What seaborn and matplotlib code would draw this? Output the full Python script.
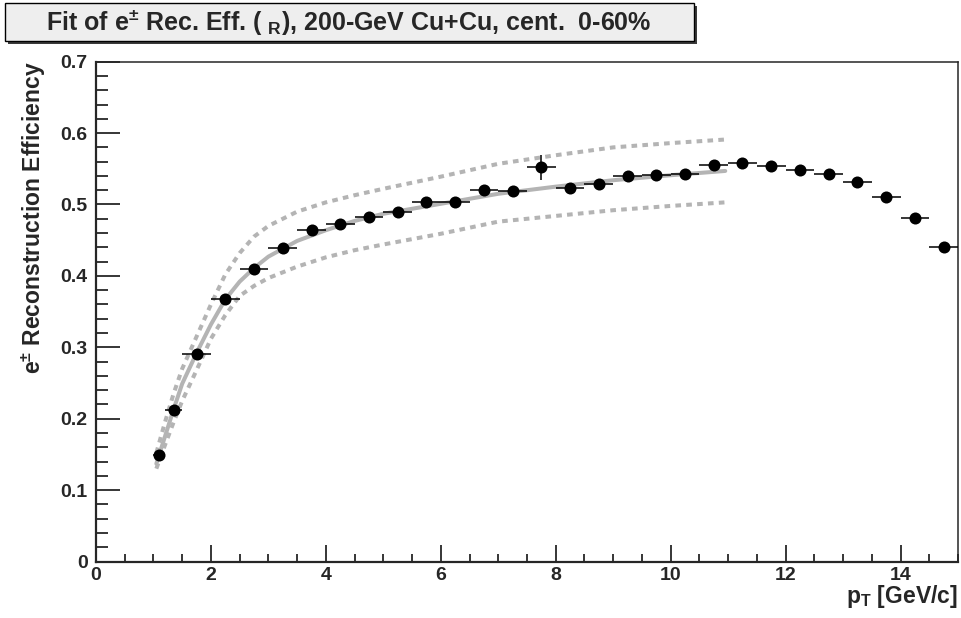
import matplotlib

matplotlib.use("Agg")
import matplotlib.pyplot as plt
import pandas as pd
import seaborn as sns
from matplotlib.patches import Rectangle
from matplotlib.ticker import MultipleLocator

# ------------------- data

pt = [1.1, 1.35, 1.75, 2.25, 2.75, 3.25, 3.75, 4.25, 4.75, 5.25, 5.75, 6.25,
      6.75, 7.25, 7.75, 8.25, 8.75, 9.25, 9.75, 10.25, 10.75, 11.25, 11.75,
      12.25, 12.75, 13.25, 13.75, 14.25, 14.75]
pt_err = [0.1, 0.15] + [0.25] * 27
eff = [0.149, 0.212, 0.291, 0.368, 0.410, 0.439, 0.464, 0.473, 0.483, 0.490,
       0.504, 0.504, 0.520, 0.519, 0.552, 0.523, 0.529, 0.540, 0.541, 0.543,
       0.555, 0.558, 0.554, 0.549, 0.543, 0.531, 0.511, 0.481, 0.440]
eff_err = [0.004] * 14 + [0.018] + [0.004] * 14

fit_pt = [1.05, 1.2, 1.35, 1.5, 1.75, 2.0, 2.25, 2.5, 2.75, 3.0, 3.5, 4.0,
          4.5, 5.0, 6.0, 7.0, 8.0, 9.0, 10.0, 10.95]
fit_mid = [0.137, 0.175, 0.213, 0.249, 0.292, 0.332, 0.367, 0.392, 0.411,
           0.427, 0.449, 0.464, 0.477, 0.487, 0.501, 0.515, 0.525, 0.534,
           0.541, 0.547]
fit_hi = [0.152, 0.195, 0.235, 0.270, 0.315, 0.360, 0.402, 0.432, 0.455,
          0.470, 0.490, 0.503, 0.513, 0.522, 0.539, 0.557, 0.569, 0.580,
          0.586, 0.591]
fit_lo = [0.130, 0.163, 0.195, 0.225, 0.268, 0.312, 0.345, 0.372, 0.386,
          0.397, 0.413, 0.426, 0.436, 0.444, 0.459, 0.476, 0.484, 0.492,
          0.498, 0.503]

title = "Fit of e$^{\\pm}$ Rec. Eff. ( $_{R}$), 200-GeV Cu+Cu, cent.  0-60%"
x_label = "p$_{T}$ [GeV/c]"
y_label = "e$^{\\pm}$ Reconstruction Efficiency"

# ------------------- style

sns.set_style("ticks")
plt.rcParams["font.family"] = ["Liberation Sans", "DejaVu Sans"]
plt.rcParams["font.weight"] = "bold"
plt.rcParams["mathtext.default"] = "regular"

points = pd.DataFrame({"pt": pt, "eff": eff})
fit = pd.DataFrame({"pt": fit_pt, "mid": fit_mid, "hi": fit_hi, "lo": fit_lo})

fig = plt.figure(figsize=(9.62, 6.18), dpi=100)
ax = fig.add_axes([96 / 962, 1 - 561.5 / 618, 862 / 962, 499.8 / 618])

grey = "#b4b4b4"
dash = (0, (1.4, 1.3))
sns.lineplot(data=fit, x="pt", y="hi", ax=ax, color=grey, lw=2.9,
             linestyle=dash, sort=False)
sns.lineplot(data=fit, x="pt", y="lo", ax=ax, color=grey, lw=2.9,
             linestyle=dash, sort=False)
sns.lineplot(data=fit, x="pt", y="mid", ax=ax, color=grey, lw=2.9, sort=False)

ax.errorbar(pt, eff, xerr=pt_err, yerr=eff_err, fmt="none", ecolor="black",
            elinewidth=1.1, capsize=0, zorder=3)
sns.scatterplot(data=points, x="pt", y="eff", ax=ax, color="black", s=75,
                edgecolor="black", linewidth=0, zorder=4)

ax.set_xlim(0, 15)
ax.set_ylim(0, 0.7)
ax.xaxis.set_major_locator(MultipleLocator(2))
ax.xaxis.set_minor_locator(MultipleLocator(0.5))
ax.yaxis.set_major_locator(MultipleLocator(0.1))
ax.yaxis.set_minor_locator(MultipleLocator(0.02))
ax.set_xticklabels(["0" if t == 0 else f"{t:g}" for t in ax.get_xticks()])
ax.set_yticklabels(["0" if t == 0 else f"{t:.1f}" for t in ax.get_yticks()])

ax.tick_params(which="both", direction="in", top=False, right=False,
               labelsize=14, color="black", width=1.1)
ax.tick_params(axis="y", which="major", length=17, pad=6)
ax.tick_params(axis="y", which="minor", length=8.5)
ax.tick_params(axis="x", which="major", length=12, pad=4)
ax.tick_params(axis="x", which="minor", length=6)
for lab in ax.get_xticklabels() + ax.get_yticklabels():
    lab.set_fontweight("bold")

for side in ["left", "bottom"]:
    ax.spines[side].set_linewidth(1.6)
for side in ["top", "right"]:
    ax.spines[side].set_linewidth(1.1)
    ax.spines[side].set_visible(True)

ax.set_xlabel(x_label, fontsize=16.5, fontweight="bold", loc="right")
ax.xaxis.set_label_coords(1.0, -0.043)
ax.set_ylabel(y_label, fontsize=16.5, fontweight="bold", loc="top")
ax.yaxis.set_label_coords(-0.056, 1.0)

# title pave with shadow, ROOT style
fig.add_artist(Rectangle((8 / 962, 1 - 44 / 618), 689 / 962, 38 / 618,
                         transform=fig.transFigure, facecolor="#3a3a3a",
                         edgecolor="none"))
fig.add_artist(Rectangle((5 / 962, 1 - 41 / 618), 689 / 962, 38 / 618,
                         transform=fig.transFigure, facecolor="#eeeeee",
                         edgecolor="black", linewidth=1.0))
fig.text(349 / 962, 1 - 22 / 618, title, ha="center", va="center",
         fontsize=18, fontweight="bold")

fig.savefig("out.png", dpi=100)
